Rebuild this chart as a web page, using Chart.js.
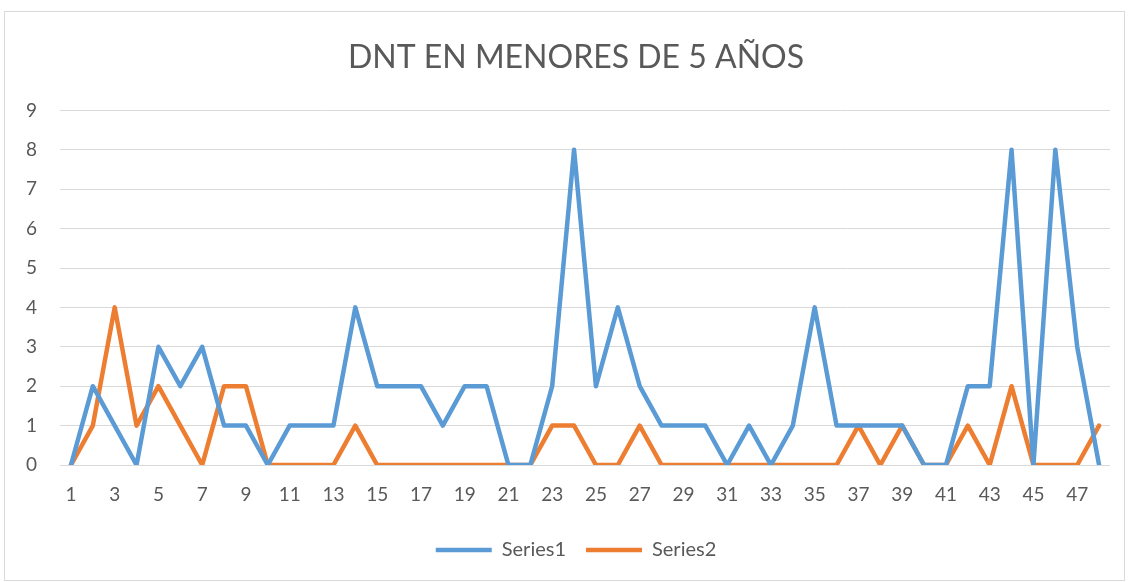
<!DOCTYPE html>
<html>
<head>
<meta charset="utf-8">
<script src="https://cdn.jsdelivr.net/npm/chart.js@4.4.1/dist/chart.umd.min.js"></script>
<style>
  html, body { margin: 0; padding: 0; background: #ffffff; }
  #wrap { position: absolute; left: 0; top: 0; width: 1128px; height: 582px; }
</style>
</head>
<body>
<div id="wrap"><canvas id="c" width="1128" height="582"></canvas></div>
<script>
const categories = [];
for (let i = 1; i <= 48; i++) categories.push(String(i));

const chartTitle = "DNT EN MENORES DE 5 AÑOS";
const seriesNames = ["Series1", "Series2"];

const series1 = [0, 2, 1, 0, 3, 2, 3, 1, 1, 0, 1, 1, 1, 4, 2, 2, 2, 1, 2, 2, 0, 0, 2, 8,
                 2, 4, 2, 1, 1, 1, 0, 1, 0, 1, 4, 1, 1, 1, 1, 0, 0, 2, 2, 8, 0, 8, 3, 0];
const series2 = [0, 1, 4, 1, 2, 1, 0, 2, 2, 0, 0, 0, 0, 1, 0, 0, 0, 0, 0, 0, 0, 0, 1, 1,
                 0, 0, 1, 0, 0, 0, 0, 0, 0, 0, 0, 0, 1, 0, 1, 0, 0, 1, 0, 2, 0, 0, 0, 1];

const yTicks = [0, 1, 2, 3, 4, 5, 6, 7, 8, 9];

const FONT = "Lato, 'Noto Sans', sans-serif";
const TXT = "#595959";

const borderPlugin = {
  id: 'outerBorder',
  beforeDraw(chart) {
    const ctx = chart.ctx;
    ctx.save();
    ctx.fillStyle = '#ffffff';
    ctx.fillRect(0, 0, chart.width, chart.height);
    ctx.strokeStyle = '#d9d9d9';
    ctx.lineWidth = 1;
    ctx.strokeRect(4.5, 11.5, 1120, 569);
    ctx.restore();
  }
};

new Chart(document.getElementById('c'), {
  type: 'line',
  data: {
    labels: categories,
    datasets: [
      { label: seriesNames[0], data: series1, borderColor: '#5B9BD5', backgroundColor: '#5B9BD5',
        borderWidth: 4.5, pointRadius: 0, pointHoverRadius: 0, tension: 0,
        borderJoinStyle: 'round', borderCapStyle: 'round' },
      { label: seriesNames[1], data: series2, borderColor: '#ED7D31', backgroundColor: '#ED7D31',
        borderWidth: 4.5, pointRadius: 0, pointHoverRadius: 0, tension: 0,
        borderJoinStyle: 'round', borderCapStyle: 'round' }
    ]
  },
  options: {
    responsive: false,
    animation: false,
    layout: { padding: { left: 24, right: 0, top: 0, bottom: 12 } },
    plugins: {
      title: {
        display: true, text: chartTitle, color: TXT,
        font: { family: FONT, size: 32, weight: 'normal' },
        padding: { top: 38, bottom: 34 }
      },
      legend: {
        position: 'bottom',
        labels: {
          color: TXT, font: { family: FONT, size: 20 },
          usePointStyle: true, pointStyle: 'line', pointStyleWidth: 56,
          boxHeight: 16, padding: 20
        }
      },
      tooltip: { enabled: false }
    },
    scales: {
      x: {
        type: 'category',
        offset: true,
        grid: { display: false, drawTicks: false },
        border: { display: false },
        ticks: {
          color: TXT, font: { family: FONT, size: 19 }, autoSkip: false,
          maxRotation: 0, padding: 18,
          callback: function (v, i) { return i % 2 === 0 ? categories[i] : ''; }
        },
        afterFit: function (s) { s.height = 55; }
      },
      y: {
        min: 0, max: 9,
        afterBuildTicks: function (s) { s.ticks = yTicks.map(v => ({ value: v })); },
        grid: { color: '#d9d9d9', lineWidth: 1, drawTicks: false },
        border: { display: false },
        ticks: { color: TXT, font: { family: FONT, size: 19 }, padding: 23 },
        afterFit: function (s) { s.width = 36; }
      },
      yRightSpacer: {
        position: 'right',
        display: true,
        min: 0, max: 9,
        grid: { display: false, drawTicks: false },
        border: { display: false },
        ticks: { display: false },
        afterFit: function (s) { s.width = 18; }
      }
    }
  },
  plugins: [borderPlugin]
});
</script>
</body>
</html>
